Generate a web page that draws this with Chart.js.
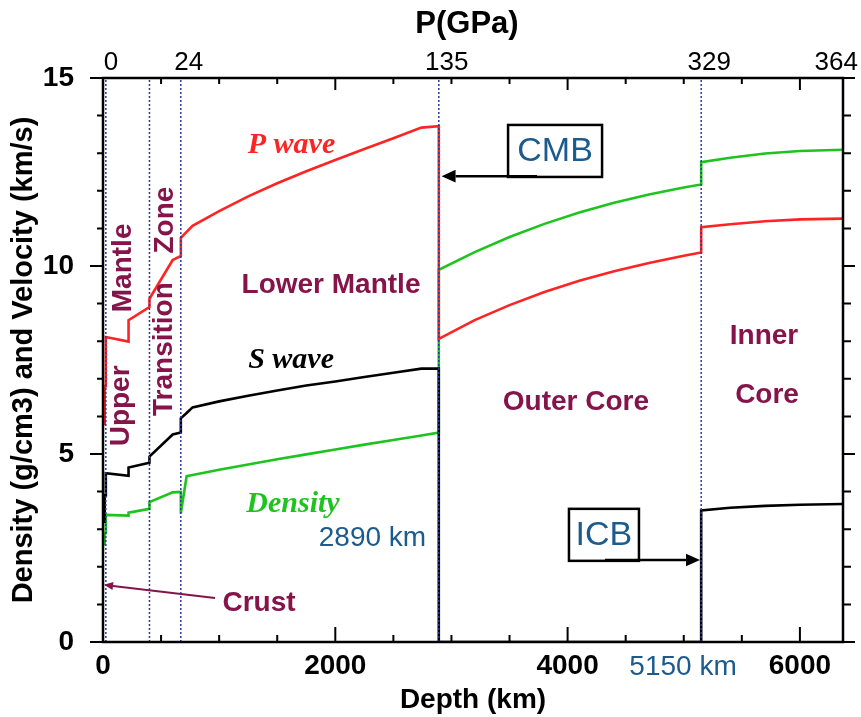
<!DOCTYPE html>
<html>
<head>
<meta charset="utf-8">
<title>Earth structure</title>
<script src="https://cdn.jsdelivr.net/npm/chart.js@4.4.1/dist/chart.umd.min.js"></script>
<style>
  html, body { margin: 0; padding: 0; background: #fff; }
</style>
</head>
<body>
<canvas id="mycanvas" width="861" height="717"></canvas>
<script>
// depth in km, a depth is repeated where the curves jump
var depth = [0, 15, 15, 24.4, 24.4, 220, 220, 400, 400, 600, 670, 670, 720, 771,
  1000, 1250, 1500, 1750, 2000, 2250, 2500, 2741, 2891, 2891,
  3200, 3500, 3800, 4100, 4400, 4700, 5000, 5150, 5150, 5400, 5700, 6000, 6371];
var pWave = [5.80, 5.80, 6.80, 6.80, 8.11, 7.99, 8.56, 8.91, 9.13, 10.16, 10.27, 10.75, 10.91, 11.07,
  11.46, 11.85, 12.20, 12.52, 12.82, 13.11, 13.40, 13.68, 13.72, 8.06,
  8.56, 8.96, 9.31, 9.61, 9.86, 10.08, 10.27, 10.36, 11.03, 11.11, 11.19, 11.24, 11.26];
var sWave = [3.20, 3.20, 3.90, 3.90, 4.49, 4.42, 4.64, 4.77, 4.93, 5.52, 5.57, 5.95, 6.09, 6.24,
  6.40, 6.55, 6.69, 6.82, 6.93, 7.05, 7.16, 7.27, 7.27, 0,
  0, 0, 0, 0, 0, 0, 0, 0, 3.50, 3.57, 3.62, 3.65, 3.67];
var density = [2.60, 2.60, 2.90, 2.90, 3.38, 3.36, 3.44, 3.54, 3.72, 3.98, 3.99, 3.42, 4.41, 4.44,
  4.58, 4.72, 4.86, 4.99, 5.12, 5.25, 5.37, 5.49, 5.57, 9.90,
  10.37, 10.77, 11.12, 11.42, 11.68, 11.90, 12.09, 12.17, 12.76, 12.88, 12.99, 13.06, 13.09];

var boundaries = [24.4, 400, 670, 2891, 5150];
var pressureDepth = [0, 670, 2891, 5150, 6371];
var pressureLabels = ['0', '24', '135', '329', '364'];
var depthTicks = [0, 2000, 4000, 6000];
var valueTicks = [0, 5, 10, 15];

var RED = '#ff2424', GREEN = '#1ec41e', MAROON = '#85144a', BLUE = '#1b5b8e';
var SANS = '"Liberation Sans", Arial, sans-serif';
var SERIF = '"Liberation Serif", "Times New Roman", serif';

// text labels on the plot, placed in depth / value units
var notes = [
  { text: 'P wave', x: 1623, y: 13.24, font: 'italic bold 30px ' + SERIF, color: RED },
  { text: 'S wave', x: 1619, y: 7.53, font: 'italic bold 30px ' + SERIF, color: '#000' },
  { text: 'Density', x: 1636, y: 3.70, font: 'italic bold 30px ' + SERIF, color: GREEN },
  { text: 'Lower Mantle', x: 1963, y: 9.52, font: 'bold 28px ' + SANS, color: MAROON },
  { text: 'Outer Core', x: 4072, y: 6.41, font: 'bold 28px ' + SANS, color: MAROON },
  { text: 'Inner', x: 5691, y: 8.16, font: 'bold 28px ' + SANS, color: MAROON },
  { text: 'Core', x: 5717, y: 6.60, font: 'bold 28px ' + SANS, color: MAROON },
  { text: 'Upper', x: 146, y: 6.28, font: 'bold 28px ' + SANS, color: MAROON, rot: true },
  { text: 'Mantle', x: 164, y: 9.95, font: 'bold 28px ' + SANS, color: MAROON, rot: true },
  { text: 'Transition', x: 517, y: 7.79, font: 'bold 28px ' + SANS, color: MAROON, rot: true },
  { text: 'Zone', x: 525, y: 11.22, font: 'bold 28px ' + SANS, color: MAROON, rot: true },
  { text: 'Crust', x: 1343, y: 1.06, font: 'bold 28px ' + SANS, color: MAROON },
  { text: '2890 km', x: 2320, y: 2.79, font: '28px ' + SANS, color: BLUE },
  { text: '5150 km', x: 4994, y: -0.64, font: '28px ' + SANS, color: BLUE },
  { text: 'CMB', x: 3892, y: 13.06, font: '34px ' + SANS, color: BLUE, box: [94, 52] },
  { text: 'ICB', x: 4313, y: 2.85, font: '34px ' + SANS, color: BLUE, box: [70, 52] }
];
var arrows = [
  { x1: 964, y1: 1.17, x2: 9, y2: 1.52, color: MAROON, width: 2, head: 9 },
  { x1: 3737, y1: 12.39, x2: 2915, y2: 12.39, color: '#000', width: 2.5, head: 14 },
  { x1: 4322, y1: 2.18, x2: 5140, y2: 2.18, color: '#000', width: 2.5, head: 14 }
];

function pts(vals) {
  return depth.map(function(d, i) { return { x: d, y: vals[i] }; });
}

function drawArrow(ctx, x1, y1, x2, y2, color, width, head) {
  var ang = Math.atan2(y2 - y1, x2 - x1);
  var c = Math.cos(ang), s = Math.sin(ang);
  ctx.strokeStyle = color;
  ctx.fillStyle = color;
  ctx.lineWidth = width;
  ctx.beginPath();
  ctx.moveTo(x1, y1);
  ctx.lineTo(x2 - head * c, y2 - head * s);
  ctx.stroke();
  ctx.beginPath();
  ctx.moveTo(x2, y2);
  ctx.lineTo(x2 - head * c + head * 0.45 * s, y2 - head * s - head * 0.45 * c);
  ctx.lineTo(x2 - head * c - head * 0.45 * s, y2 - head * s + head * 0.45 * c);
  ctx.closePath();
  ctx.fill();
}

var frame = {
  id: 'frame',
  afterDraw: function(chart) {
    var ctx = chart.ctx, a = chart.chartArea;
    var xs = chart.scales.x, ys = chart.scales.y;
    ctx.save();

    // frame and tick marks
    ctx.strokeStyle = '#000';
    ctx.lineWidth = 2.5;
    ctx.strokeRect(a.left, a.top, a.right - a.left, a.bottom - a.top);
    ctx.lineWidth = 2;
    ctx.beginPath();
    for (var d = 0; d <= 6371; d += 500) {
      var px = xs.getPixelForValue(d);
      var big = d % 2000 === 0;
      ctx.moveTo(px, a.bottom); ctx.lineTo(px, a.bottom - (big ? 15 : 7));
      ctx.moveTo(px, a.top); ctx.lineTo(px, a.top + (big ? 12 : 6));
    }
    for (var v = 0; v <= 15; v++) {
      var py = ys.getPixelForValue(v);
      var major = v % 5 === 0;
      ctx.moveTo(a.left, py); ctx.lineTo(a.left - (major ? 13 : 6), py);
      ctx.moveTo(a.right, py); ctx.lineTo(a.right + (major ? 12 : 8), py);
    }
    ctx.stroke();

    // pressure axis on top
    ctx.fillStyle = '#000';
    ctx.textAlign = 'center';
    ctx.textBaseline = 'middle';
    ctx.font = '26px ' + SANS;
    pressureDepth.forEach(function(d, i) {
      var w = ctx.measureText(pressureLabels[i]).width;
      var x = Math.min(xs.getPixelForValue(d) + 8, 858 - w / 2);
      ctx.fillText(pressureLabels[i], x, 63);
    });
    ctx.font = 'bold 31px ' + SANS;
    ctx.fillText('P(GPa)', 467, 24);

    notes.forEach(function(n) {
      var x = xs.getPixelForValue(n.x), y = ys.getPixelForValue(n.y);
      ctx.save();
      ctx.translate(x, y);
      if (n.rot) ctx.rotate(-Math.PI / 2);
      if (n.box) {
        ctx.fillStyle = '#fff';
        ctx.fillRect(-n.box[0] / 2, -n.box[1] / 2, n.box[0], n.box[1]);
        ctx.strokeStyle = '#000';
        ctx.lineWidth = 2.5;
        ctx.strokeRect(-n.box[0] / 2, -n.box[1] / 2, n.box[0], n.box[1]);
      }
      ctx.font = n.font;
      ctx.fillStyle = n.color;
      ctx.textAlign = 'center';
      ctx.textBaseline = 'middle';
      ctx.fillText(n.text, 0, 1);
      ctx.restore();
    });

    arrows.forEach(function(r) {
      drawArrow(ctx, xs.getPixelForValue(r.x1), ys.getPixelForValue(r.y1),
        xs.getPixelForValue(r.x2), ys.getPixelForValue(r.y2), r.color, r.width, r.head);
    });
    ctx.restore();
  }
};

var boundarySets = boundaries.map(function(d) {
  return {
    data: [{ x: d, y: 0 }, { x: d, y: 15 }],
    borderColor: '#2b3a9c',
    borderWidth: 1.5,
    borderDash: [2, 2]
  };
});

var chartdata = {
  datasets: boundarySets.concat([
    { label: 'P wave', data: pts(pWave), borderColor: RED, borderWidth: 2.6 },
    { label: 'S wave', data: pts(sWave), borderColor: '#000', borderWidth: 2.6 },
    { label: 'Density', data: pts(density), borderColor: GREEN, borderWidth: 2.6 }
  ])
};

var axisFont = { family: SANS, size: 28, weight: 'bold' };

new Chart(document.getElementById('mycanvas'), {
  type: 'line',
  data: chartdata,
  options: {
    responsive: false,
    animation: false,
    layout: { padding: { top: 78, right: 18, left: 0, bottom: 0 } },
    elements: { point: { radius: 0 }, line: { tension: 0 } },
    plugins: { legend: { display: false }, tooltip: { enabled: false } },
    scales: {
      x: {
        type: 'linear', min: 0, max: 6371,
        grid: { display: false }, border: { display: false },
        afterBuildTicks: function(s) { s.ticks = depthTicks.map(function(v) { return { value: v }; }); },
        afterFit: function(s) { s.height = 75; },
        ticks: {
          autoSkip: false, maxRotation: 0, padding: -1, color: '#000', font: axisFont,
          callback: function(v) { return String(v); }
        },
        title: { display: true, text: 'Depth (km)', color: '#000', font: axisFont, padding: 0 }
      },
      y: {
        type: 'linear', min: 0, max: 15,
        grid: { display: false }, border: { display: false },
        afterBuildTicks: function(s) { s.ticks = valueTicks.map(function(v) { return { value: v }; }); },
        afterFit: function(s) { s.width = 103; },
        ticks: { padding: 21, color: '#000', font: axisFont },
        title: {
          display: true, text: 'Density (g/cm3) and Velocity (km/s)', color: '#000',
          font: { family: SANS, size: 29, weight: 'bold' }, padding: { top: 7, bottom: 0 }
        }
      }
    }
  },
  plugins: [frame]
});
</script>
</body>
</html>
